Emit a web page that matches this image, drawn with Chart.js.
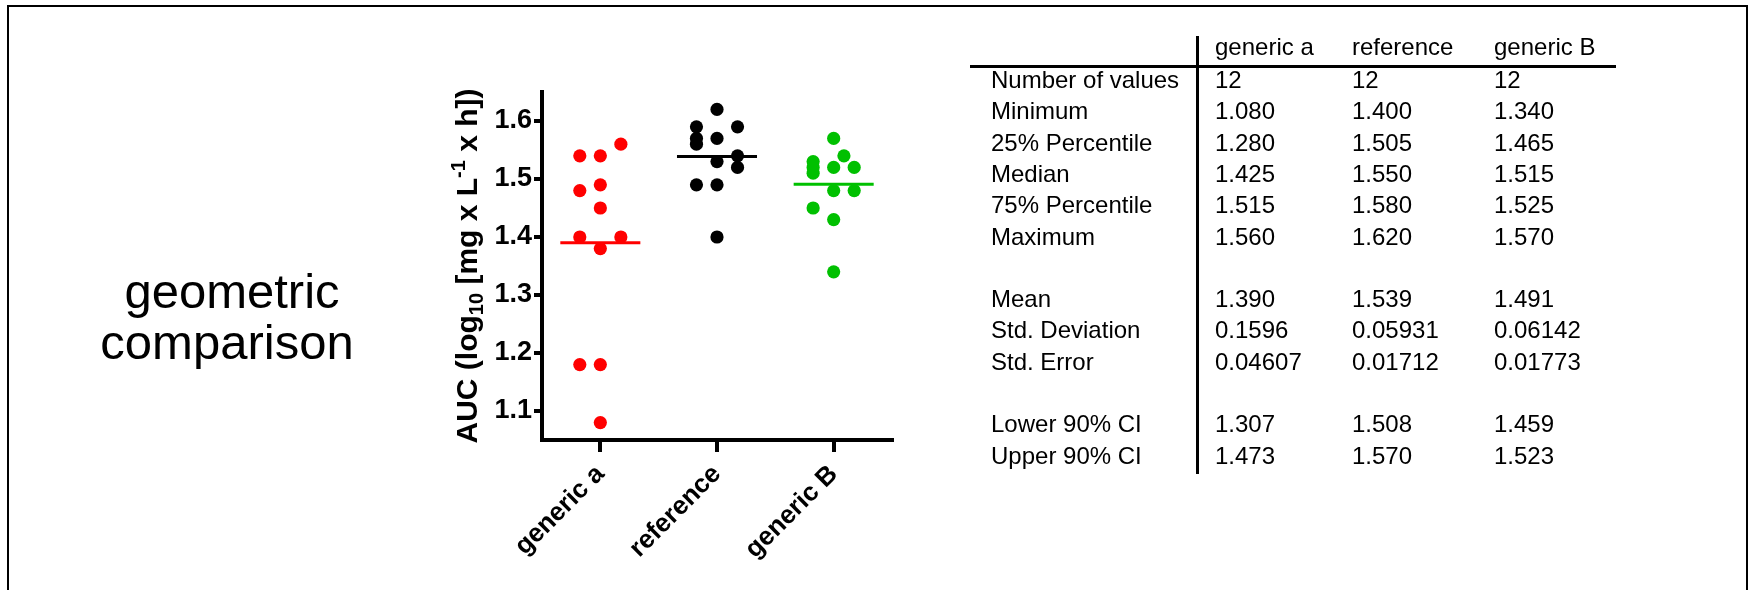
<!DOCTYPE html>
<html>
<head>
<meta charset="utf-8">
<script src="https://cdn.jsdelivr.net/npm/chart.js@4.4.0/dist/chart.umd.min.js"></script>
<style>
  html, body { margin: 0; padding: 0; background: #fff; }
  body { width: 1752px; height: 590px; position: relative; overflow: hidden;
         font-family: "Liberation Sans", Arial, sans-serif; color: #000; }
  #frame { position: absolute; left: 7px; top: 5px; width: 1741px; height: 640px;
           border: 2px solid #000; box-sizing: border-box; }
  #chart { position: absolute; left: 0; top: 0; }
  .big { position: absolute; font-size: 49px; line-height: 51px; white-space: nowrap;
         transform: translateX(-50%); }
  .cell { position: absolute; font-size: 24px; line-height: 31.3px; white-space: nowrap; }
  .hline { position: absolute; background: #000; }
</style>
</head>
<body>
<div id="frame"></div>
<canvas id="chart" width="1752" height="590"></canvas>
<div class="big" style="left:232px; top:266px;">geometric</div>
<div class="big" style="left:227px; top:317px;">comparison</div>
<div id="table"></div>
<script>
// ---- data ----
const categories = ['generic a', 'reference', 'generic B'];
const yTicks = [1.1, 1.2, 1.3, 1.4, 1.5, 1.6];

const genericA        = [1.56, 1.54, 1.54, 1.49, 1.48, 1.45, 1.40, 1.40, 1.38, 1.18, 1.18, 1.08];
const genericASlots   = [1, -1, 0, 0, -1, 0, -1, 1, 0, -1, 0, 0];
const referenceVals   = [1.62, 1.59, 1.59, 1.57, 1.57, 1.56, 1.54, 1.53, 1.52, 1.49, 1.49, 1.40];
const referenceSlots  = [0, -1, 1, -1, 0, -1, 1, 0, 1, -1, 0, 0];
const genericB        = [1.57, 1.54, 1.53, 1.52, 1.51, 1.52, 1.52, 1.48, 1.48, 1.45, 1.43, 1.34];
const genericBSlots   = [0, 0.5, -1, -1, -1, 0, 1, 0, 1, -1, 0, 0];

// table statistics
const nValues  = [12, 12, 12];
const minimum  = [1.080, 1.400, 1.340];
const pct25    = [1.280, 1.505, 1.465];
const median   = [1.425, 1.550, 1.515];
const pct75    = [1.515, 1.580, 1.525];
const maximum  = [1.560, 1.620, 1.570];
const mean     = [1.390, 1.539, 1.491];
const stdDev   = [0.1596, 0.05931, 0.06142];
const stdErr   = [0.04607, 0.01712, 0.01773];
const lower90  = [1.307, 1.508, 1.459];
const upper90  = [1.473, 1.570, 1.523];

// ---- styles ----
const FONT = '"Liberation Sans", Arial, sans-serif';
const colors = ['#ff0000', '#000000', '#00c000'];
const SLOT = 0.176;      // horizontal spread step (category units)
const HALF = 0.343;      // half width of mean line

const seriesVals = [genericA, referenceVals, genericB];
const seriesSlots = [genericASlots, referenceSlots, genericBSlots];

const datasets = [];
seriesVals.forEach((vals, i) => {
  datasets.push({
    type: 'scatter',
    data: vals.map((v, k) => ({ x: i + seriesSlots[i][k] * SLOT, y: v })),
    backgroundColor: colors[i], borderWidth: 0, pointRadius: 6.6, pointHoverRadius: 6.6,
    order: 2
  });
});
mean.forEach((m, i) => {
  datasets.push({
    type: 'line',
    data: [{ x: i - HALF, y: m }, { x: i + HALF, y: m }],
    borderColor: colors[i], borderWidth: 3, pointRadius: 0, fill: false, order: 1
  });
});

const yTitle = {
  id: 'yTitle',
  afterDraw(chart) {
    const ctx = chart.ctx;
    const parts = [
      { t: 'AUC (log', s: 30, dy: 0 },
      { t: '10', s: 20, dy: 6 },
      { t: ' [mg x L', s: 30, dy: 0 },
      { t: '-1', s: 20, dy: -12 },
      { t: ' x h])', s: 30, dy: 0 }
    ];
    ctx.save();
    let total = 0;
    parts.forEach(p => { ctx.font = 'bold ' + p.s + 'px ' + FONT; p.w = ctx.measureText(p.t).width; total += p.w; });
    const cy = (chart.chartArea.top + chart.chartArea.bottom) / 2;
    ctx.translate(477, cy);
    ctx.rotate(-Math.PI / 2);
    ctx.fillStyle = '#000';
    ctx.textBaseline = 'alphabetic';
    ctx.textAlign = 'left';
    let x = -total / 2;
    parts.forEach(p => { ctx.font = 'bold ' + p.s + 'px ' + FONT; ctx.fillText(p.t, x, p.dy); x += p.w; });
    ctx.restore();
  }
};

new Chart(document.getElementById('chart'), {
  type: 'scatter',
  data: { datasets },
  options: {
    responsive: false, animation: false, devicePixelRatio: 1,
    layout: { padding: { left: 442, right: 860, top: 92, bottom: 30 } },
    plugins: { legend: { display: false }, tooltip: { enabled: false } },
    scales: {
      x: {
        type: 'linear', min: -0.5, max: 2.5,
        afterBuildTicks: s => { s.ticks = categories.map((c, i) => ({ value: i })); },
        afterFit: s => { s.height = 120; },
        ticks: {
          autoSkip: false, maxRotation: 45, minRotation: 45, padding: 7, color: '#000',
          font: { family: FONT, size: 26, weight: 'bold' },
          callback: v => categories[v]
        },
        grid: { drawOnChartArea: false, drawTicks: true, tickLength: 12, color: '#000', lineWidth: 4 },
        border: { display: true, color: '#000', width: 4 }
      },
      y: {
        type: 'linear', min: 1.05, max: 1.65,
        afterBuildTicks: s => { s.ticks = yTicks.map(v => ({ value: v })); },
        afterFit: s => { s.width = 100; },
        ticks: {
          color: '#000', padding: 2,
          font: { family: FONT, size: 27, weight: 'bold' },
          callback: v => v.toFixed(1)
        },
        grid: { drawOnChartArea: false, drawTicks: true, tickLength: 8, color: '#000', lineWidth: 4 },
        border: { display: true, color: '#000', width: 4 }
      }
    }
  },
  plugins: [yTitle]
});

// ---- statistics table ----
const f3 = a => a.map(v => v.toFixed(3));
const p4 = a => a.map(v => v.toPrecision(4));
const rows = [
  ['Number of values', nValues.map(String)],
  ['Minimum', f3(minimum)],
  ['25% Percentile', f3(pct25)],
  ['Median', f3(median)],
  ['75% Percentile', f3(pct75)],
  ['Maximum', f3(maximum)],
  null,
  ['Mean', f3(mean)],
  ['Std. Deviation', p4(stdDev)],
  ['Std. Error', p4(stdErr)],
  null,
  ['Lower 90% CI', f3(lower90)],
  ['Upper 90% CI', f3(upper90)]
];
const table = document.getElementById('table');
const colX = [1215, 1352, 1494];
const labelX = 991;
const ROW = 31.3, FIRST = 64.0, HEAD = 31.0;
function cell(text, x, y) {
  const d = document.createElement('div');
  d.className = 'cell'; d.textContent = text;
  d.style.left = x + 'px'; d.style.top = y + 'px';
  table.appendChild(d);
}
categories.forEach((c, i) => cell(c, colX[i], HEAD));
rows.forEach((r, k) => {
  if (!r) return;
  const y = FIRST + k * ROW;
  cell(r[0], labelX, y);
  r[1].forEach((v, i) => cell(v, colX[i], y));
});
function line(x, y, w, h) {
  const d = document.createElement('div');
  d.className = 'hline';
  d.style.left = x + 'px'; d.style.top = y + 'px'; d.style.width = w + 'px'; d.style.height = h + 'px';
  table.appendChild(d);
}
line(970, 65, 646, 3);
line(1196, 36, 3, 438);
</script>
</body>
</html>
